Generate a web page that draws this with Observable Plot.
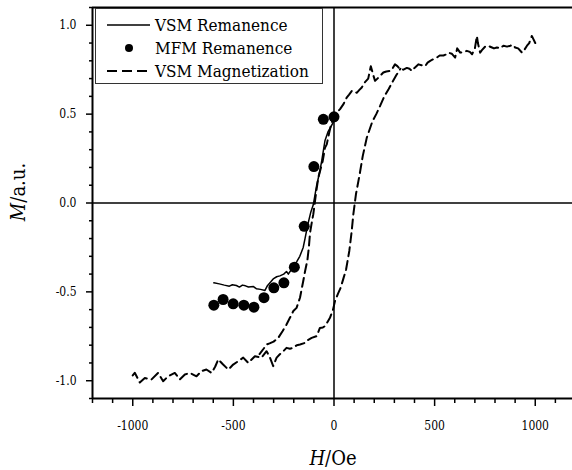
<!DOCTYPE html>
<html><head><meta charset="utf-8">
<script src="https://cdn.jsdelivr.net/npm/d3@7"></script>
<script src="https://cdn.jsdelivr.net/npm/@observablehq/plot@0.6"></script>
<style>
body{margin:0;background:#fff;}
#chart svg{font-family:"DejaVu Serif Condensed","DejaVu Serif",serif;font-stretch:condensed;}
</style></head><body><div id="chart"></div>
<script>
// MFM remanence (dots)
const mfmH = [-597,-551,-501,-448,-398,-348,-299,-249,-197,-148,-100,-53,0];
const mfmM = [-0.575,-0.543,-0.567,-0.575,-0.586,-0.533,-0.477,-0.449,-0.361,-0.131,0.205,0.471,0.485];
// VSM remanence (solid line)
const remH = [-597,-570,-545,-520,-505,-485,-470,-455,-440,-425,-400,-385,-365,-343,-330,-315,-300,-285,-269,-250,-236,-227,-215,-202,-185,-170,-153,-144,-130,-115,-103,-86,-72,-61,-45,-30,-15,0];
const remM = [-0.449,-0.455,-0.462,-0.468,-0.460,-0.464,-0.473,-0.462,-0.466,-0.473,-0.470,-0.483,-0.486,-0.492,-0.464,-0.445,-0.425,-0.415,-0.41,-0.40,-0.385,-0.40,-0.38,-0.36,-0.33,-0.30,-0.25,-0.20,-0.12,-0.05,-0.01,0.10,0.17,0.237,0.35,0.40,0.43,0.462];
// VSM magnetization, descending branch (+1000 -> -370)
const descH = [1000,983,970,959,945,934,915,900,888,876,860,842,825,809,795,785,765,751,735,726,715,710,700,686,675,660,645,627,612,602,585,569,555,544,525,511,495,478,465,453,435,420,400,387,375,362,345,328,315,303,290,279,260,245,225,204,195,183,170,154,138,125,113,100,88,75,63,47,30,15,0,-15,-25,-36,-45,-56,-67,-78,-90,-103,-112,-119,-125,-132,-143,-153,-169,-186,-202,-219,-236,-255,-277,-300,-320,-335,-350,-370];
const descM = [0.90,0.94,0.90,0.885,0.86,0.846,0.87,0.875,0.89,0.885,0.88,0.885,0.87,0.875,0.87,0.875,0.885,0.88,0.86,0.846,0.90,0.94,0.87,0.837,0.85,0.856,0.85,0.846,0.87,0.818,0.84,0.846,0.835,0.83,0.83,0.818,0.81,0.80,0.79,0.77,0.775,0.78,0.76,0.743,0.755,0.76,0.75,0.753,0.77,0.78,0.755,0.743,0.74,0.734,0.71,0.687,0.72,0.77,0.70,0.68,0.65,0.635,0.62,0.63,0.63,0.61,0.593,0.556,0.528,0.51,0.49,0.44,0.39,0.33,0.31,0.237,0.19,0.143,0.049,-0.064,-0.12,-0.167,-0.25,-0.32,-0.38,-0.44,-0.533,-0.59,-0.608,-0.646,-0.684,-0.72,-0.759,-0.78,-0.79,-0.796,-0.82,-0.85];
// VSM magnetization, ascending branch (-1000 -> +330)
const ascH = [-1000,-990,-965,-940,-907,-874,-849,-824,-791,-766,-741,-716,-683,-658,-634,-608,-590,-575,-551,-525,-501,-476,-451,-426,-393,-360,-335,-318,-302,-285,-268,-252,-236,-219,-202,-185,-169,-144,-128,-111,-86,-70,-55,-45,-30,-20,-5,5,20,33,48,60,76,88,96,109,126,143,163,191,210,229,250,271,290,310,330];
const ascM = [-0.97,-0.955,-1.01,-0.985,-0.993,-0.956,-1.003,-0.975,-0.956,-0.993,-0.965,-0.956,-0.975,-0.946,-0.937,-0.956,-0.92,-0.88,-0.909,-0.937,-0.909,-0.89,-0.87,-0.9,-0.862,-0.87,-0.834,-0.87,-0.918,-0.87,-0.85,-0.834,-0.815,-0.82,-0.815,-0.80,-0.796,-0.787,-0.77,-0.759,-0.749,-0.703,-0.70,-0.693,-0.665,-0.646,-0.60,-0.552,-0.51,-0.477,-0.42,-0.374,-0.27,-0.158,-0.064,0.049,0.152,0.265,0.368,0.46,0.50,0.546,0.60,0.64,0.68,0.72,0.755];

const xMajor = [-1000,-500,0,500,1000];
const xMinor = [-1200,-1100,-900,-800,-700,-600,-400,-300,-200,-100,100,200,300,400,600,700,800,900,1100];
const yMajor = [-1.0,-0.5,0.0,0.5,1.0];
const yMinor = [-1.1,-0.9,-0.8,-0.7,-0.6,-0.4,-0.3,-0.2,-0.1,0.1,0.2,0.3,0.4,0.6,0.7,0.8,0.9,1.1];

const mfm = mfmH.map((H,i)=>({H, M: mfmM[i]}));
const rem = remH.map((H,i)=>({H, M: remM[i]}));
const mag = [
  ...descH.map((H,i)=>({H, M: descM[i], branch:"down"})),
  ...ascH.map((H,i)=>({H, M: ascM[i], branch:"up"}))
];

const FONT = '"DejaVu Serif Condensed","DejaVu Serif",serif';
const TFONT = '"DejaVu Serif",serif';

const svg = Plot.plot({
  width: 572, height: 470,
  marginLeft: 92, marginRight: 0, marginTop: 7, marginBottom: 72,
  x: {domain: [-1200, 1200], range: [92, 575]},
  y: {domain: [-1.1, 1.1], range: [398, 7]},
  style: {fontFamily: FONT, fontSize: "12px", color: "black", background: "white", overflow: "hidden"},
  marks: [
    Plot.ruleX([0], {stroke: "black", strokeWidth: 1.5}),
    Plot.ruleY([0], {stroke: "black", strokeWidth: 1.5}),
    Plot.line(mag, {x: "H", y: "M", z: "branch", stroke: "black", strokeWidth: 2, strokeDasharray: "9,5"}),
    Plot.line(rem, {x: "H", y: "M", stroke: "black", strokeWidth: 1.5}),
    Plot.dot(mfm, {x: "H", y: "M", r: 5.5, fill: "black", stroke: "none"}),
    Plot.axisX({ticks: xMajor, tickSize: 8, tickPadding: 15, tickFormat: d => String(d), label: null, strokeWidth: 1.5}),
    Plot.axisX({ticks: xMinor, tickSize: 5, tickFormat: () => "", label: null, strokeWidth: 1.5}),
    Plot.axisY({ticks: yMajor, tickSize: 6, tickPadding: 10, tickFormat: d => d.toFixed(1), label: null, strokeWidth: 1.5}),
    Plot.axisY({ticks: yMinor, tickSize: 3, tickFormat: () => "", label: null, strokeWidth: 1.5}),
    Plot.ruleY([-1.1], {stroke: "black", strokeWidth: 2}),
    Plot.ruleY([1.1], {stroke: "black", strokeWidth: 2}),
    Plot.ruleX([-1200], {stroke: "black", strokeWidth: 2})
  ]
});

const s = d3.select(svg);
// Legend
const lg = s.append("g").attr("font-family", FONT).attr("font-size", 17).attr("text-anchor", "start");
lg.append("rect").attr("x", 95.5).attr("y", 8.5).attr("width", 227).attr("height", 75)
  .attr("fill", "white").attr("stroke", "#333").attr("stroke-width", 1);
const items = [
  {label: "VSM Remanence", type: "solid", y: 25},
  {label: "MFM Remanence", type: "dot", y: 48},
  {label: "VSM Magnetization", type: "dash", y: 71}
];
items.forEach(it => {
  if (it.type === "dot") {
    lg.append("circle").attr("cx", 129).attr("cy", it.y).attr("r", 4).attr("fill", "black");
  } else {
    lg.append("line").attr("x1", 107).attr("x2", 150).attr("y1", it.y).attr("y2", it.y)
      .attr("stroke", "black").attr("stroke-width", it.type === "dash" ? 2 : 1.5)
      .attr("stroke-dasharray", it.type === "dash" ? "10,5" : null);
  }
  lg.append("text").attr("x", 155).attr("y", it.y).attr("dy", "0.35em").attr("text-anchor", "start")
    .attr("fill", "black").text(it.label);
});
// Axis titles
const xt = s.append("text").attr("x", 333).attr("y", 465).attr("text-anchor", "middle")
  .attr("font-family", TFONT).attr("font-size", 20).attr("fill", "black");
xt.append("tspan").attr("font-style", "italic").text("H");
xt.append("tspan").text("/Oe");
const yt = s.append("text").attr("transform", "translate(25,192) rotate(-90)").attr("text-anchor", "middle")
  .attr("font-family", TFONT).attr("font-size", 20).attr("fill", "black");
yt.append("tspan").attr("font-style", "italic").text("M");
yt.append("tspan").text("/a.u.");

document.getElementById("chart").appendChild(svg);
</script></body></html>
